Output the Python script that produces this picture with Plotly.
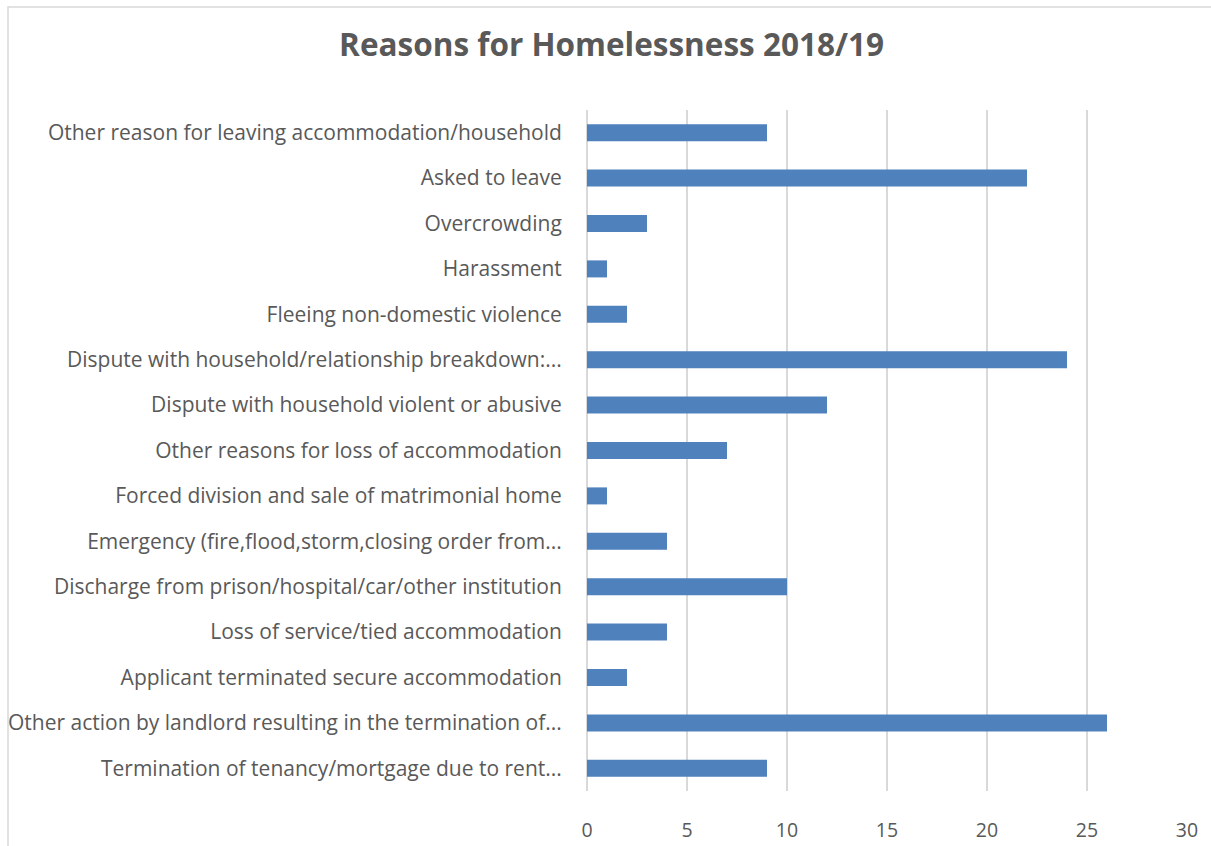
import plotly.graph_objects as go

categories = [
    "Termination of tenancy/mortgage due to rent...",
    "Other action by landlord resulting in the termination of...",
    "Applicant terminated secure accommodation",
    "Loss of service/tied accommodation",
    "Discharge from prison/hospital/car/other institution",
    "Emergency (fire,flood,storm,closing order from...",
    "Forced division and sale of matrimonial home",
    "Other reasons for loss of accommodation",
    "Dispute with household violent or abusive",
    "Dispute with household/relationship breakdown:...",
    "Fleeing non-domestic violence",
    "Harassment",
    "Overcrowding",
    "Asked to leave",
    "Other reason for leaving accommodation/household",
]
values = [9, 26, 2, 4, 10, 4, 1, 7, 12, 24, 2, 1, 3, 22, 9]
x_ticks = [0, 5, 10, 15, 20, 25, 30]

W, H = 1211, 846
L, R, T, B = 587, 24, 110, 55
pw, ph = W - L - R, H - T - B

fig = go.Figure(go.Bar(
    y=categories, x=values, orientation="h",
    marker=dict(color="#4F81BD", line=dict(width=0)),
    width=0.375,
))

font_family = "Open Sans, Liberation Sans, sans-serif"
fig.update_layout(
    width=W, height=H,
    margin=dict(l=L, r=R, t=T, b=B, pad=0, autoexpand=False),
    paper_bgcolor="white", plot_bgcolor="white",
    showlegend=False,
    title=dict(text="<b>Reasons for Homelessness 2018/19</b>",
               font=dict(family=font_family, size=31.5, color="#595959"),
               xref="container", x=0.505, xanchor="center",
               yref="container", y=1 - 45 / H, yanchor="middle"),
    font=dict(family=font_family, color="#595959"),
    bargap=0.625,
)
fig.update_xaxes(
    range=[0, 30], tickvals=x_ticks, ticktext=[str(v) for v in x_ticks],
    showgrid=True, gridcolor="#D9D9D9", gridwidth=1.5,
    zeroline=True, zerolinecolor="#D9D9D9", zerolinewidth=1.5,
    showline=False, ticks="outside", ticklen=22, tickcolor="rgba(0,0,0,0)",
    tickfont=dict(size=19.5, color="#595959"), automargin=False,
)
fig.update_yaxes(
    categoryorder="array", categoryarray=categories,
    range=[-0.5, len(categories) - 0.5],
    showgrid=False, showline=False, zeroline=False,
    ticks="outside", ticklen=20, tickcolor="rgba(0,0,0,0)",
    tickfont=dict(size=21, color="#595959"), automargin=False,
)
# chart border
fig.add_shape(type="rect", xref="paper", yref="paper",
              x0=(8 - L) / pw, x1=(W + 20 - L) / pw,
              y0=-(B + 20) / ph, y1=(H - B - 7) / ph,
              line=dict(color="#D9D9D9", width=1.5), fillcolor="rgba(0,0,0,0)",
              layer="below")

fig.write_html("out.html")
